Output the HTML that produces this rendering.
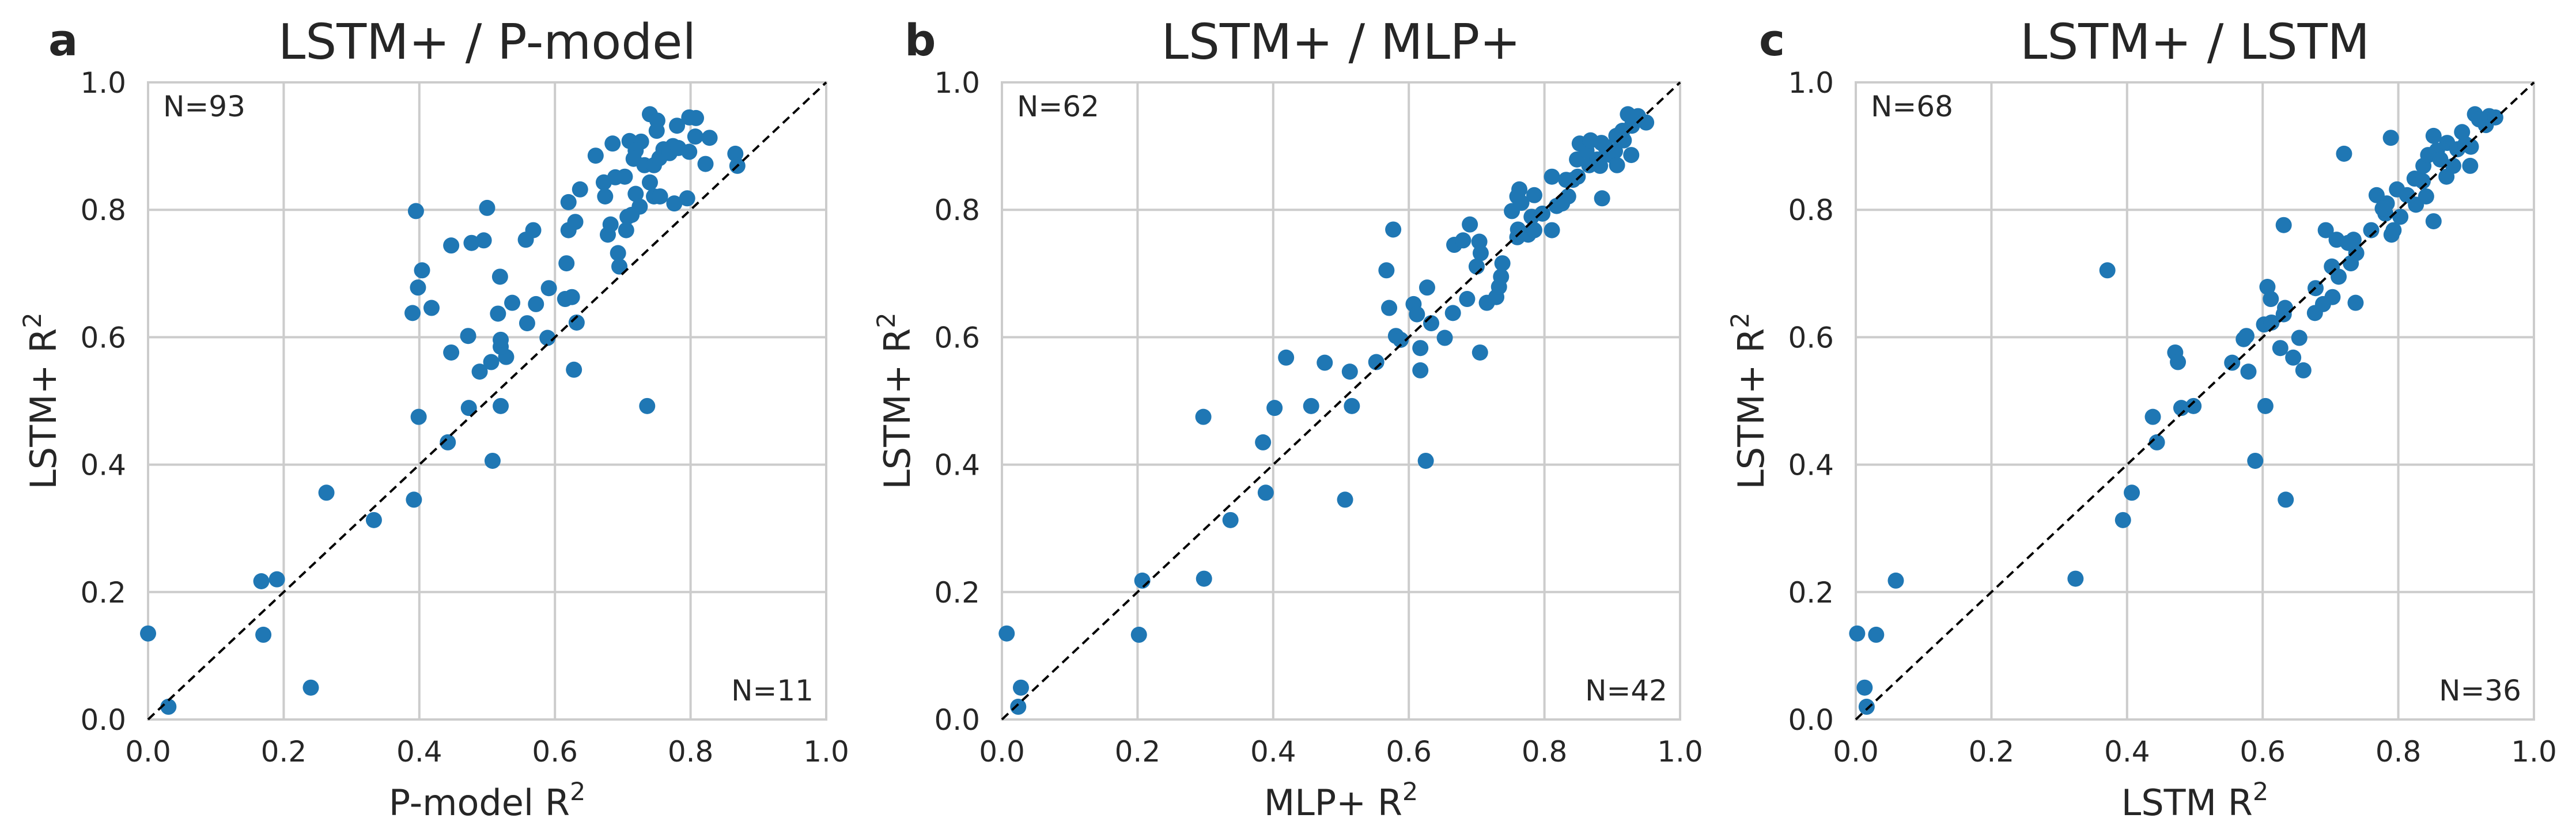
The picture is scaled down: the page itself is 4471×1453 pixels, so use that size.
<!DOCTYPE html>
<html><head><meta charset="utf-8"><style>
html,body{margin:0;padding:0;background:#fff;}
svg{display:block;font-family:"DejaVu Sans","Liberation Sans",sans-serif;}
</style></head><body>
<svg id="chart" width="4471" height="1453" viewBox="0 0 4471 1453" xmlns="http://www.w3.org/2000/svg"></svg>
<script>
const ticks = [0, 0.2, 0.4, 0.6, 0.8, 1.0];
const tickLabels = ["0.0","0.2","0.4","0.6","0.8","1.0"];
const titles = ["LSTM+ / P-model","LSTM+ / MLP+","LSTM+ / LSTM"];
const letters = ["a","b","c"];
const xNames = ["P-model","MLP+","LSTM"];
const nAbove = ["N=93","N=62","N=68"];
const nBelow = ["N=11","N=42","N=36"];
const aX = [0.00,0.03,0.167,0.19,0.17,0.24,0.263,0.333,0.392,0.399,0.442,0.473,0.52,0.508,0.736,0.489,0.506,0.528,0.52,0.52,0.447,0.472,0.39,0.418,0.398,0.404,0.516,0.537,0.559,0.572,0.589,0.591,0.519,0.628,0.632,0.615,0.625,0.617,0.395,0.5,0.447,0.477,0.495,0.557,0.568,0.62,0.63,0.62,0.637,0.66,0.685,0.672,0.674,0.689,0.703,0.678,0.682,0.705,0.707,0.713,0.693,0.695,0.719,0.725,0.71,0.727,0.719,0.716,0.732,0.74,0.751,0.75,0.74,0.746,0.755,0.746,0.754,0.76,0.769,0.774,0.782,0.78,0.776,0.795,0.798,0.798,0.808,0.807,0.828,0.822,0.866,0.869];
const aY = [0.135,0.02,0.217,0.22,0.133,0.05,0.356,0.313,0.345,0.475,0.435,0.489,0.492,0.406,0.492,0.546,0.561,0.569,0.585,0.596,0.576,0.602,0.638,0.646,0.678,0.705,0.637,0.654,0.622,0.652,0.599,0.677,0.695,0.549,0.623,0.66,0.663,0.716,0.798,0.803,0.744,0.748,0.752,0.753,0.768,0.768,0.781,0.812,0.832,0.885,0.904,0.843,0.821,0.851,0.852,0.761,0.777,0.768,0.789,0.792,0.732,0.711,0.825,0.805,0.908,0.907,0.893,0.88,0.87,0.95,0.94,0.924,0.843,0.821,0.821,0.87,0.881,0.895,0.889,0.9,0.897,0.932,0.81,0.818,0.891,0.945,0.944,0.915,0.913,0.872,0.888,0.869];
const bX = [0.007,0.024,0.028,0.202,0.207,0.298,0.297,0.337,0.389,0.385,0.402,0.419,0.456,0.476,0.513,0.516,0.506,0.552,0.625,0.705,0.567,0.571,0.577,0.581,0.588,0.607,0.612,0.617,0.617,0.633,0.627,0.653,0.665,0.686,0.667,0.68,0.69,0.704,0.706,0.7,0.715,0.729,0.733,0.736,0.738,0.752,0.76,0.761,0.76,0.763,0.766,0.776,0.785,0.781,0.785,0.797,0.811,0.811,0.818,0.826,0.835,0.832,0.842,0.849,0.885,0.848,0.852,0.862,0.868,0.866,0.878,0.882,0.884,0.89,0.898,0.904,0.907,0.906,0.915,0.917,0.923,0.929,0.928,0.938,0.95];
const bY = [0.135,0.02,0.05,0.133,0.218,0.221,0.475,0.313,0.356,0.435,0.489,0.568,0.492,0.56,0.546,0.492,0.345,0.561,0.406,0.576,0.705,0.646,0.769,0.602,0.596,0.652,0.636,0.583,0.548,0.622,0.678,0.599,0.638,0.66,0.745,0.752,0.777,0.75,0.732,0.711,0.654,0.663,0.679,0.695,0.716,0.798,0.757,0.769,0.821,0.832,0.811,0.761,0.768,0.789,0.823,0.794,0.768,0.852,0.806,0.81,0.821,0.847,0.847,0.852,0.818,0.879,0.904,0.893,0.909,0.87,0.879,0.869,0.905,0.899,0.886,0.892,0.87,0.916,0.924,0.909,0.95,0.932,0.886,0.947,0.937];
const cX = [0.002,0.013,0.016,0.03,0.059,0.324,0.371,0.394,0.407,0.438,0.444,0.471,0.475,0.48,0.498,0.555,0.572,0.576,0.579,0.589,0.604,0.602,0.613,0.607,0.612,0.626,0.631,0.633,0.634,0.631,0.645,0.654,0.66,0.677,0.678,0.689,0.703,0.702,0.712,0.693,0.709,0.72,0.73,0.737,0.734,0.738,0.726,0.76,0.768,0.79,0.793,0.781,0.783,0.777,0.798,0.803,0.789,0.813,0.826,0.824,0.836,0.841,0.837,0.844,0.852,0.852,0.857,0.862,0.871,0.872,0.881,0.887,0.894,0.899,0.906,0.907,0.913,0.919,0.929,0.934,0.943];
const cY = [0.135,0.05,0.02,0.133,0.218,0.221,0.705,0.313,0.356,0.475,0.435,0.576,0.561,0.489,0.492,0.56,0.597,0.602,0.546,0.406,0.492,0.62,0.623,0.679,0.66,0.583,0.636,0.646,0.345,0.776,0.568,0.599,0.548,0.638,0.677,0.652,0.663,0.711,0.695,0.768,0.753,0.888,0.716,0.654,0.753,0.732,0.748,0.768,0.823,0.761,0.768,0.794,0.81,0.802,0.832,0.789,0.913,0.823,0.808,0.849,0.845,0.821,0.869,0.886,0.782,0.916,0.893,0.879,0.852,0.905,0.869,0.895,0.922,0.903,0.869,0.899,0.95,0.942,0.933,0.947,0.945];
const seriesX = [aX,bX,cX];
const seriesY = [aY,bY,cY];

const NS = "http://www.w3.org/2000/svg";
const svg = document.getElementById("chart");
const lefts = [257, 1739, 3221];
const W = 1177, TOP = 143, BOT = 1249, H = BOT - TOP;
const letterX = [84, 1570, 3053];
function mk(tag, attrs, parent){ const e=document.createElementNS(NS,tag); for(const k in attrs) e.setAttribute(k,attrs[k]); (parent||svg).appendChild(e); return e; }

for (let p=0;p<3;p++){
  const L = lefts[p];
  const sx = v => L + v*W;
  const sy = v => BOT - v*H;
  const g = mk("g",{});
  
  
  ticks.forEach((t,i)=>{
    const gv = mk("line",{x1:sx(t),x2:sx(t),y1:TOP,y2:BOT,stroke:"#cccccc","stroke-width":4},g);
    
    
    const gh = mk("line",{x1:L,x2:L+W,y1:sy(t),y2:sy(t),stroke:"#cccccc","stroke-width":4},g);
    
    
    const xt = mk("text",{x:sx(t),y:1322,"text-anchor":"middle","font-size":50,fill:"#262626"},g);
    xt.textContent = tickLabels[i];
    
    
    const yt = mk("text",{x:L-38,y:sy(t)+18,"text-anchor":"end","font-size":50,fill:"#262626"},g);
    yt.textContent = tickLabels[i];
    
    
  });
  const frame = mk("rect",{x:L,y:TOP,width:W,height:H,fill:"none",stroke:"#cccccc","stroke-width":4},g);
  
  
  const xs = seriesX[p], ys = seriesY[p];
  for (let i=0;i<xs.length;i++){
    const c = mk("circle",{cx:sx(xs[i]),cy:sy(ys[i]),r:14,fill:"#1f77b4"},g);
    
    
  }
  const diag = mk("line",{x1:sx(0),y1:sy(0),x2:sx(1),y2:sy(1),stroke:"#000","stroke-width":4,"stroke-dasharray":"15 9"},g);
  
  
  const n1 = mk("text",{x:L+26,y:202,"font-size":50,fill:"#262626"},g);
  n1.textContent = nAbove[p];
  
  
  const n2 = mk("text",{x:L+W-22,y:1216,"text-anchor":"end","font-size":50,fill:"#262626"},g);
  n2.textContent = nBelow[p];
  
  
  const ti = mk("text",{x:L+W/2,y:102,"text-anchor":"middle","font-size":85,fill:"#262626"},g);
  ti.textContent = titles[p];
  
  
  const le = mk("text",{x:letterX[p],y:96,"font-size":76,"font-weight":"bold",fill:"#262626"},g);
  le.textContent = letters[p];
  
  
  const xl = mk("text",{x:L+W/2,y:1415,"text-anchor":"middle","font-size":62,fill:"#262626"},g);
  xl.innerHTML = xNames[p]+' R<tspan dy="-26" font-size="43">2</tspan>';
  
  
  const yl = mk("text",{x:0,y:0,"text-anchor":"middle","font-size":62,fill:"#262626",transform:"translate("+(L-160)+","+((TOP+BOT)/2)+") rotate(-90)"},g);
  yl.innerHTML = 'LSTM+ R<tspan dy="-26" font-size="43">2</tspan>';
  
  
}
</script>
</body></html>
